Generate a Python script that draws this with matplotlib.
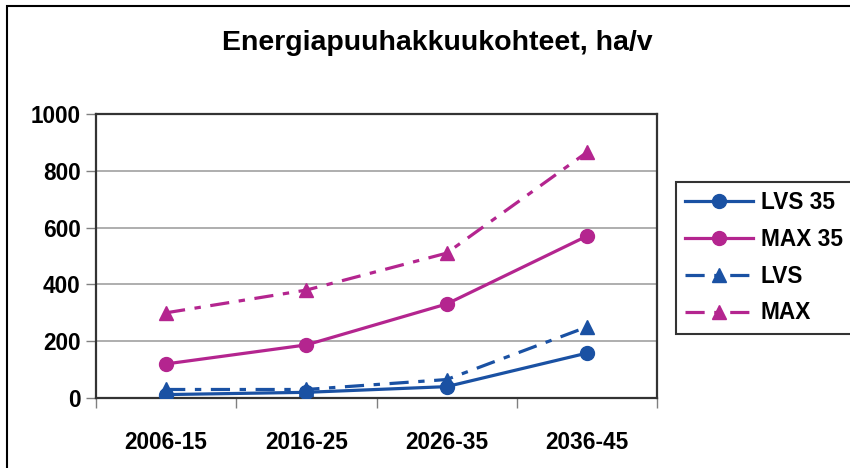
import matplotlib
matplotlib.use("Agg")
import matplotlib.pyplot as plt
from matplotlib.patches import Rectangle

categories = ["2006-15", "2016-25", "2026-35", "2036-45"]
lvs35 = [12, 20, 40, 158]
max35 = [120, 187, 331, 570]
lvs = [30, 30, 65, 250]
maxv = [300, 380, 510, 865]
yticks = [0, 200, 400, 600, 800, 1000]

plt.rcParams['font.family'] = ['Liberation Sans', 'DejaVu Sans']
plt.rcParams['font.weight'] = 'bold'

BLUE = '#1A51A3'
MAG = '#B4258F'

fig = plt.figure(figsize=(8.5, 4.68), dpi=100)
W, H = 850, 468
ax = fig.add_axes([96 / W, 1 - 398 / H, (657 - 96) / W, (398 - 114) / H])

x = [i + 0.5 for i in range(len(categories))]
dashpat = (0, (6, 3, 2, 3))
ax.plot(x, lvs35, color=BLUE, lw=2.3, marker='o', ms=10, label='LVS 35', zorder=4)
ax.plot(x, max35, color=MAG, lw=2.3, marker='o', ms=10, label='MAX 35', zorder=4)
ax.plot(x, lvs, color=BLUE, lw=2.3, ls=dashpat, marker='^', ms=10, label='LVS', zorder=3)
ax.plot(x, maxv, color=MAG, lw=2.3, ls=dashpat, marker='^', ms=10, label='MAX', zorder=3)

ax.set_xlim(0, len(categories))
ax.set_ylim(0, 1000)
ax.set_yticks(yticks)
ax.set_yticklabels([str(v) for v in yticks], fontsize=16.3, fontweight='bold')
ax.set_xticks(range(len(categories) + 1))
ax.set_xticklabels([])
ax.set_xticks(x, minor=True)
ax.set_xticklabels(categories, minor=True, fontsize=16.3, fontweight='bold')
ax.tick_params(axis='x', which='minor', length=0, pad=24)
ax.tick_params(axis='x', which='major', length=7, width=1, color='#808080', direction='out')
ax.tick_params(axis='y', length=7, width=1, color='#808080', direction='out', pad=4)
ax.yaxis.grid(True, color='#999999', lw=1.1)
ax.set_axisbelow(True)
for s in ax.spines.values():
    s.set_color('#333333')
    s.set_linewidth(1.6)

fig.text(437 / W, 1 - 43 / H, "Energiapuuhakkuukohteet, ha/v", ha='center', va='center',
         fontsize=20.5, fontweight='bold')

leg = fig.legend(loc='upper left', bbox_to_anchor=(676 / W, 1 - 182 / H),
                 prop={'size': 16.3, 'weight': 'bold'}, frameon=True, fancybox=False,
                 edgecolor='black', handlelength=3.0, labelspacing=0.61,
                 borderpad=0.4, handletextpad=0.35, borderaxespad=0)
leg.get_frame().set_linewidth(1.5)

fig.patches.append(Rectangle((7 / W, -0.1), 1.2, 1 - 6 / H + 0.1, transform=fig.transFigure,
                             fill=False, edgecolor='black', lw=1.5))

fig.savefig('out.png', dpi=100)
